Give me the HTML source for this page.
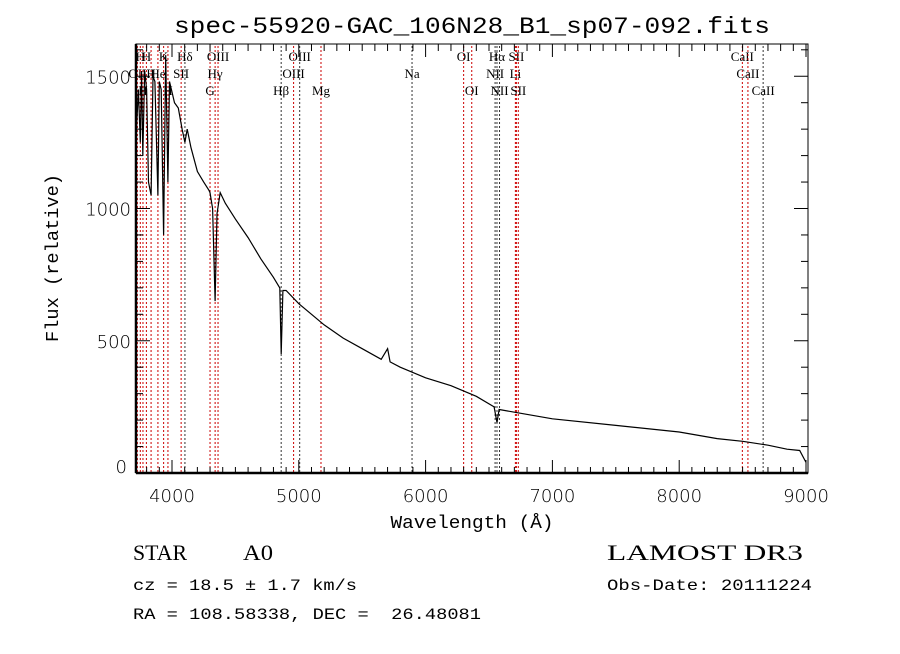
<!DOCTYPE html>
<html><head><meta charset="utf-8"><style>
body{margin:0;background:#fff;}
svg text{font-family:"Liberation Serif",serif;white-space:pre;}
</style></head><body>
<svg width="900" height="649" viewBox="0 0 900 649" xmlns="http://www.w3.org/2000/svg">
<rect width="900" height="649" fill="#fff"/>
<text x="472" y="33" text-anchor="middle" style="font-family:'Liberation Mono',monospace" font-size="23" textLength="596" lengthAdjust="spacingAndGlyphs">spec-55920-GAC_106N28_B1_sp07-092.fits</text>
<g id="lines"></g>
<path id="spec" fill="none" stroke="#000" stroke-width="1.2"/>
<rect x="136" y="44" width="672" height="429" fill="none" stroke="#000" stroke-width="1"/>
<line x1="136" y1="44" x2="136" y2="473" stroke="#000" stroke-width="2.5"/>
<line x1="136" y1="473" x2="808" y2="473" stroke="#000" stroke-width="2.5"/>
<g id="axes"></g>
<text x="472" y="528" text-anchor="middle" style="font-family:'Liberation Mono',monospace" font-size="18" textLength="163" lengthAdjust="spacingAndGlyphs">Wavelength (Å)</text>
<text transform="translate(58,258) rotate(-90)" text-anchor="middle" style="font-family:'Liberation Mono',monospace" font-size="18" textLength="168" lengthAdjust="spacingAndGlyphs">Flux (relative)</text>
<text x="133" y="560" font-size="22" textLength="54" lengthAdjust="spacingAndGlyphs">STAR</text>
<text x="243" y="560" font-size="22" textLength="30" lengthAdjust="spacingAndGlyphs">A0</text>
<text x="607" y="560" font-size="22" textLength="196" lengthAdjust="spacingAndGlyphs">LAMOST DR3</text>
<text x="133" y="590" style="font-family:'Liberation Mono',monospace" font-size="16" textLength="224" lengthAdjust="spacingAndGlyphs">cz = 18.5 ± 1.7 km/s</text>
<text x="607" y="590" style="font-family:'Liberation Mono',monospace" font-size="16" textLength="205" lengthAdjust="spacingAndGlyphs">Obs-Date: 20111224</text>
<text x="133" y="619" style="font-family:'Liberation Mono',monospace" font-size="16" textLength="348" lengthAdjust="spacingAndGlyphs">RA = 108.58338, DEC =  26.48081</text>
</svg>
<script>
const wavelengths=[3720,3735,3750,3760,3770,3785,3800,3815,3835,3850,3865,3889,3900,3915,3934,3950,3968,3980,3995,4020,4050,4080,4102,4120,4150,4200,4250,4290,4300,4320,4340,4355,4380,4420,4500,4600,4700,4800,4850,4861,4875,4900,5000,5100,5200,5350,5500,5650,5700,5720,5800,6000,6200,6400,6540,6563,6580,6700,7000,7500,8000,8300,8500,8700,8850,8950,9000];
const fluxes=[1300,1450,1250,1520,1200,1520,1450,1100,1050,1500,1480,1050,1480,1450,900,1580,1100,1480,1450,1400,1380,1300,1250,1300,1230,1140,1100,1070,1060,1000,650,980,1060,1020,960,890,810,740,700,450,690,690,640,600,560,510,470,430,470,420,400,360,330,290,250,190,240,230,205,180,155,130,120,105,90,85,40];
const lineWaves=[3727,3750,3771,3798,3835,3889,3934,3968,4072,4102,4300,4340,4363,4861,4959,5007,5175,5893,6300,6364,6548,6563,6583,6708,6716,6731,8498,8542,8662];
const lineNames=["OII","H","H","H","H","He","K","H","SII","Hδ","G","Hγ","OIII","Hβ","OIII","OIII","Mg","Na","OI","OI","NII","Hα","NII","Li","SII","SII","CaII","CaII","CaII"];
const lineRows=[1,0,2,0,1,1,0,2,1,0,2,1,0,2,1,0,2,1,0,2,1,0,2,1,0,2,0,1,2];
const lineBlack=[0,0,0,0,0,0,0,0,0,1,0,0,0,1,0,1,0,1,0,0,1,1,1,0,0,0,0,0,1];
const xTicks=[4000,5000,6000,7000,8000,9000];
const yTicks=[0,500,1000,1500];
const X=w=>172+(w-4000)*0.1268;
const Y=f=>473-f*0.2645;
const NS="http://www.w3.org/2000/svg";
const mk=(t,a)=>{const e=document.createElementNS(NS,t);for(const k in a)e.setAttribute(k,a[k]);return e;};
let d="";wavelengths.forEach((w,i)=>{d+=(i?"L":"M")+X(w).toFixed(1)+","+Y(fluxes[i]).toFixed(1);});
document.getElementById("spec").setAttribute("d",d);
const lg=document.getElementById("lines");
lineWaves.forEach((w,i)=>{
 const l=mk("line",{x1:X(w),x2:X(w),y1:46,y2:472,stroke:lineBlack[i]?"#333":"#c00","stroke-width":1,"stroke-dasharray":"2,2"});
 
 
 lg.appendChild(l);
 const t=mk("text",{x:X(w),y:61+lineRows[i]*17,"text-anchor":"middle","font-size":13});
 
 
 t.textContent=lineNames[i];lg.appendChild(t);
});
const ag=document.getElementById("axes");
xTicks.forEach(v=>{
 const t=mk("text",{x:X(v),y:502,"text-anchor":"middle","font-size":18,style:"font-family:'DejaVu Sans',sans-serif;font-weight:300"});
 
 
 t.textContent=v;ag.appendChild(t);
});
for(let w=3800;w<=9000;w+=100){const big=w%1000===0;
 ag.appendChild(mk("line",{x1:X(w),x2:X(w),y1:473,y2:big?460:467,stroke:"#000"}));
 ag.appendChild(mk("line",{x1:X(w),x2:X(w),y1:44,y2:big?57:51,stroke:"#000"}));}
for(let f=0;f<=1600;f+=100){const big=f%500===0;
 ag.appendChild(mk("line",{x1:136,x2:big?150:143,y1:Y(f),y2:Y(f),stroke:"#000"}));
 ag.appendChild(mk("line",{x1:808,x2:big?794:801,y1:Y(f),y2:Y(f),stroke:"#000"}));}
yTicks.forEach(v=>{
 const t=mk("text",{x:v===0?127:131,y:Y(v)+(v===0?0:7),"text-anchor":"end","font-size":18,style:"font-family:'DejaVu Sans',sans-serif;font-weight:300"});
 
 
 t.textContent=v;ag.appendChild(t);
});
</script>
</body></html>
